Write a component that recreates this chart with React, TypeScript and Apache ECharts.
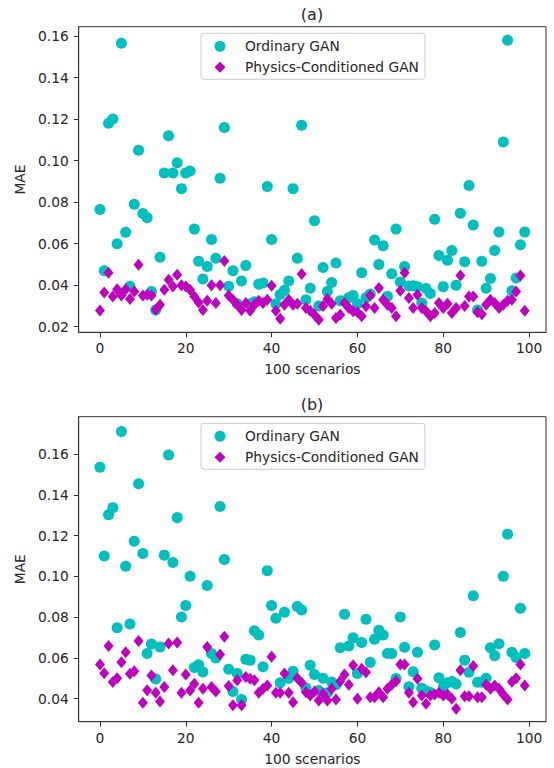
import React, { useEffect, useRef } from "react";
import * as echarts from "echarts";

// ---- data ----
const scenarios: number[] = Array.from({ length: 100 }, (_, i) => i);

const topOrdinary: number[] = [
  0.0765, 0.047, 0.118, 0.12, 0.06, 0.1565, 0.0655, 0.0395, 0.079, 0.105,
  0.0745, 0.0725, 0.037, 0.028, 0.0535, 0.094, 0.112, 0.094, 0.099, 0.0865,
  0.094, 0.095, 0.067, 0.0515, 0.043, 0.049, 0.062, 0.053, 0.0915, 0.116,
  0.0395, 0.047, 0.031, 0.042, 0.0495, 0.031, 0.032, 0.0405, 0.041, 0.0875,
  0.062, 0.031, 0.0355, 0.0375, 0.042, 0.0865, 0.053, 0.117, 0.033, 0.0385,
  0.071, 0.03, 0.0485, 0.037, 0.0413, 0.0507, 0.0325, 0.0325, 0.034, 0.035,
  0.031, 0.046, 0.034, 0.0357, 0.0618, 0.05, 0.059, 0.0346, 0.0455, 0.067,
  0.0415, 0.049, 0.0396, 0.0397, 0.0392, 0.0314, 0.0384, 0.036, 0.0718, 0.0543,
  0.0393, 0.052, 0.0567, 0.04, 0.0746, 0.0513, 0.088, 0.069, 0.028, 0.0515,
  0.0385, 0.0432, 0.0567, 0.0656, 0.109, 0.158, 0.0373, 0.0435, 0.0595, 0.0656,
];

const topPhysics: number[] = [
  0.0278, 0.0365, 0.046, 0.0346, 0.038, 0.035, 0.038, 0.0334, 0.037, 0.0498,
  0.035, 0.0354, 0.035, 0.0282, 0.0306, 0.0378, 0.0426, 0.0394, 0.045, 0.04,
  0.0394, 0.0378, 0.0346, 0.0317, 0.028, 0.0325, 0.04, 0.0314, 0.04, 0.0517,
  0.035, 0.033, 0.0306, 0.028, 0.0314, 0.0277, 0.0306, 0.0325, 0.0314, 0.033,
  0.0397, 0.0277, 0.0238, 0.0306, 0.033, 0.0306, 0.031, 0.0454, 0.029, 0.0277,
  0.0258, 0.0234, 0.03, 0.0334, 0.031, 0.0242, 0.0258, 0.0314, 0.029, 0.0274,
  0.027, 0.025, 0.0298, 0.035, 0.029, 0.0386, 0.033, 0.0306, 0.029, 0.025,
  0.0373, 0.046, 0.0338, 0.029, 0.0354, 0.029, 0.0274, 0.025, 0.0266, 0.0314,
  0.029, 0.031, 0.0266, 0.029, 0.0446, 0.03, 0.0346, 0.0346, 0.027, 0.026,
  0.0306, 0.033, 0.0314, 0.029, 0.0306, 0.0325, 0.033, 0.037, 0.0446, 0.0277,
];

const bottomOrdinary: number[] = [
  0.1535, 0.11, 0.1302, 0.1337, 0.0748, 0.171, 0.105, 0.0766, 0.1172, 0.1454,
  0.1112, 0.0621, 0.0668, 0.0497, 0.0654, 0.1104, 0.1595, 0.1068, 0.1288, 0.08,
  0.0857, 0.1, 0.0553, 0.0566, 0.0531, 0.0955, 0.0621, 0.06, 0.1343, 0.1083,
  0.0544, 0.0435, 0.0523, 0.0396, 0.0593, 0.0588, 0.0733, 0.0712, 0.0556, 0.1028,
  0.0857, 0.0794, 0.0478, 0.0824, 0.05, 0.0534, 0.0852, 0.0835, 0.0452, 0.0564,
  0.0518, 0.044, 0.05, 0.0429, 0.0482, 0.0468, 0.065, 0.0814, 0.0658, 0.0699,
  0.0523, 0.0676, 0.0789, 0.0578, 0.0692, 0.0735, 0.0712, 0.0621, 0.0621, 0.0499,
  0.0801, 0.0652, 0.0458, 0.0532, 0.0628, 0.0451, 0.0437, 0.043, 0.0663, 0.0503,
  0.0457, 0.0478, 0.0484, 0.0472, 0.0725, 0.0589, 0.0529, 0.0905, 0.048, 0.048,
  0.05, 0.065, 0.061, 0.0669, 0.1, 0.1207, 0.0628, 0.0602, 0.0843, 0.0621,
];

const bottomPhysics: number[] = [
  0.0568, 0.0525, 0.0658, 0.0482, 0.05, 0.0578, 0.0628, 0.0522, 0.0535, 0.0683,
  0.038, 0.0441, 0.0514, 0.0429, 0.0386, 0.0457, 0.0671, 0.0539, 0.0676, 0.0429,
  0.0518, 0.044, 0.0473, 0.038, 0.0449, 0.0654, 0.0457, 0.0435, 0.0616, 0.0704,
  0.0462, 0.0368, 0.049, 0.0368, 0.0506, 0.0498, 0.049, 0.0429, 0.0449, 0.0465,
  0.0605, 0.0429, 0.0429, 0.0523, 0.0429, 0.0383, 0.05, 0.0478, 0.0432, 0.0416,
  0.0435, 0.0391, 0.0424, 0.0391, 0.0449, 0.0396, 0.0485, 0.0518, 0.0468, 0.0564,
  0.04, 0.0547, 0.053, 0.0407, 0.0407, 0.0432, 0.0407, 0.0449, 0.0468, 0.0485,
  0.0567, 0.0567, 0.0429, 0.0383, 0.0498, 0.0416, 0.0375, 0.0416, 0.042, 0.0429,
  0.0416, 0.042, 0.04, 0.035, 0.0539, 0.0412, 0.0412, 0.056, 0.0407, 0.0407,
  0.0468, 0.0449, 0.0465, 0.0449, 0.042, 0.0396, 0.0483, 0.05, 0.0567, 0.0465,
];

const xTicks: number[] = [0, 20, 40, 60, 80, 100];
const topYTicks: number[] = [0.02, 0.04, 0.06, 0.08, 0.1, 0.12, 0.14, 0.16];
const bottomYTicks: number[] = [0.04, 0.06, 0.08, 0.1, 0.12, 0.14, 0.16];
const seriesNames: string[] = ["Ordinary GAN", "Physics-Conditioned GAN"];
const panelTitles: string[] = ["(a)", "(b)"];
const xLabel = "100 scenarios";
const yLabel = "MAE";

const FONT = "DejaVu Sans";
const FS = 13.8;
const TEXT = "#262626";
const LINE = "#333333";
const CYAN = "#00BFBF";
const MAGENTA = "#BF00BF";

export default function App() {
  const ref = useRef<HTMLDivElement>(null);

  useEffect(() => {
    if (!ref.current) return;
    const chart = echarts.init(ref.current, undefined, { renderer: "svg" });

    const grids = [
      { left: 78.7, top: 26.7, width: 467.3, height: 305.6 },
      { left: 78.7, top: 416.7, width: 467.3, height: 305 },
    ];
    const yRanges = [
      { min: 0.0173, max: 0.1645, ticks: topYTicks },
      { min: 0.0287, max: 0.1783, ticks: bottomYTicks },
    ];
    const legendTops = [33.3, 423.3];

    const toPairs = (vals: number[]) => vals.map((v, i) => [scenarios[i], v]);

    const option: any = {
      animation: false,
      backgroundColor: "#ffffff",
      grid: grids.map((g) => ({
        ...g,
        show: true,
        borderColor: LINE,
        borderWidth: 1,
        backgroundColor: "transparent",
        containLabel: false,
        outerBoundsMode: "none",
      })),
      xAxis: [0, 1].map((gi) => ({
        type: "value",
        gridIndex: gi,
        min: -4.95,
        max: 103.95,
        name: xLabel,
        nameLocation: "middle",
        nameGap: 30,
        nameTextStyle: { fontFamily: FONT, fontSize: FS, color: TEXT },
        axisLine: { show: true, onZero: false, lineStyle: { color: LINE, width: 1 } },
        axisTick: { show: true, inside: false, length: 5, lineStyle: { color: LINE }, customValues: xTicks },
        axisLabel: {
          customValues: xTicks,
          margin: 9,
          fontFamily: FONT,
          fontSize: FS,
          color: TEXT,
          formatter: (v: number) => String(Math.round(v)),
        },
        splitLine: { show: false },
      })),
      yAxis: [0, 1].map((gi) => ({
        type: "value",
        gridIndex: gi,
        min: yRanges[gi].min,
        max: yRanges[gi].max,
        name: yLabel,
        nameLocation: "middle",
        nameGap: 45,
        nameTextStyle: { fontFamily: FONT, fontSize: FS, color: TEXT },
        axisLine: { show: true, onZero: false, lineStyle: { color: LINE, width: 1 } },
        axisTick: { show: true, inside: false, length: 5, lineStyle: { color: LINE }, customValues: yRanges[gi].ticks },
        axisLabel: {
          customValues: yRanges[gi].ticks,
          margin: 10,
          fontFamily: FONT,
          fontSize: FS,
          color: TEXT,
          formatter: (v: number) => v.toFixed(2),
        },
        splitLine: { show: false },
      })),
      legend: legendTops.map((t) => ({
        left: 201,
        top: t,
        orient: "vertical",
        padding: [6, 6, 5, 13.5],
        itemGap: 7,
        itemWidth: 11,
        itemHeight: 11,
        symbolKeepAspect: true,
        borderColor: "#cccccc",
        borderWidth: 1,
        borderRadius: 3,
        backgroundColor: "rgba(255,255,255,0.8)",
        textStyle: { fontFamily: FONT, fontSize: FS, color: TEXT, padding: [0, 0, 0, 14.5] },
        data: seriesNames,
      })),
      graphic: panelTitles.map((t, gi) => ({
        type: "text",
        x: 312,
        y: gi === 0 ? 14 : 404,
        style: {
          text: t,
          align: "center",
          verticalAlign: "middle",
          fontFamily: FONT,
          fontSize: 16,
          fill: TEXT,
        },
      })),
      series: [
        { name: seriesNames[0], type: "scatter", xAxisIndex: 0, yAxisIndex: 0, symbol: "circle", symbolSize: 11, itemStyle: { color: CYAN, opacity: 1 }, data: toPairs(topOrdinary) },
        { name: seriesNames[1], type: "scatter", xAxisIndex: 0, yAxisIndex: 0, symbol: "diamond", symbolSize: [10, 12], itemStyle: { color: MAGENTA, opacity: 1 }, data: toPairs(topPhysics) },
        { name: seriesNames[0], type: "scatter", xAxisIndex: 1, yAxisIndex: 1, symbol: "circle", symbolSize: 11, itemStyle: { color: CYAN, opacity: 1 }, data: toPairs(bottomOrdinary) },
        { name: seriesNames[1], type: "scatter", xAxisIndex: 1, yAxisIndex: 1, symbol: "diamond", symbolSize: [10, 12], itemStyle: { color: MAGENTA, opacity: 1 }, data: toPairs(bottomPhysics) },
      ],
    };

    chart.setOption(option);
    return () => chart.dispose();
  }, []);

  return (
    <div
      ref={ref}
      style={{ position: "absolute", left: 0, top: 0, width: 554, height: 768, background: "#fff" }}
    />
  );
}
